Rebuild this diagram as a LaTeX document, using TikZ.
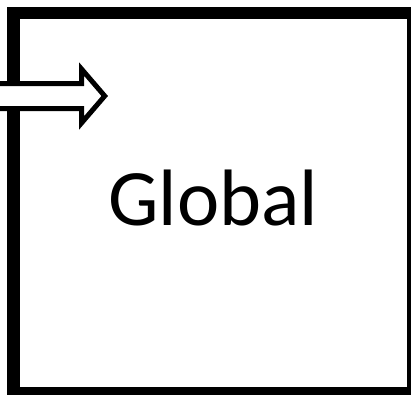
\documentclass[tikz,border=0pt]{standalone}
\usepackage{fontspec}
\setmainfont{Carlito}
\begin{document}
\begin{tikzpicture}[x=1pt, y=-1pt, font=\fontsize{80}{96}\selectfont]
	\useasboundingbox (0,0) rectangle (411,394);
	% Rahmen
	\node[draw, line width=12.5pt, minimum width=399.5pt, minimum height=380pt, inner sep=0pt] (global) at (213.25,203) {};
	% Beschriftung
	\node[inner sep=0pt] (label) at ([yshift=5pt]global.center) {Global};
	% Blockpfeil von links
	\coordinate (tip) at (104.7,96);
	\draw[line width=5pt, fill=white, miter limit=10]
		(-10,83.5) -- (81.5,83.5) -- (81.5,69) -- (tip) -- (81.5,123) -- (81.5,108.5) -- (-10,108.5) -- cycle;
\end{tikzpicture}
\end{document}
